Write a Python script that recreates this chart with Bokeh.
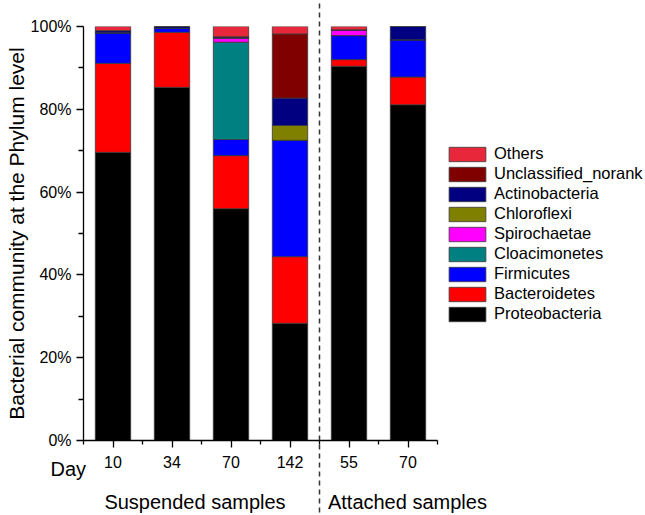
from bokeh.plotting import figure
from bokeh.models import (ColumnDataSource, FixedTicker, Legend, LegendItem,
                          Label, LinearAxis, Range1d, PrintfTickFormatter)
from bokeh.embed import file_html
from bokeh.resources import INLINE

# ---- data ----
days = ["10", "34", "70", "142", "55", "70"]
positions = [1, 2, 3, 4, 5, 6]
phyla = ["Proteobacteria", "Bacteroidetes", "Firmicutes", "Cloacimonetes",
         "Spirochaetae", "Chloroflexi", "Actinobacteria",
         "Unclassified_norank", "Others"]
Proteobacteria = [69.6, 85.3, 56.0, 28.3, 90.4, 81.1]
Bacteroidetes = [21.5, 13.3, 12.8, 16.1, 1.6, 6.7]
Firmicutes = [7.4, 1.0, 3.9, 28.1, 5.8, 9.0]
Cloacimonetes = [0.0, 0.0, 23.5, 0.0, 0.0, 0.0]
Spirochaetae = [0.0, 0.0, 1.0, 0.0, 1.4, 0.0]
Chloroflexi = [0.0, 0.0, 0.0, 3.6, 0.0, 0.0]
Actinobacteria = [0.5, 0.4, 0.3, 6.6, 0.0, 3.2]
Unclassified_norank = [0.0, 0.0, 0.0, 15.5, 0.0, 0.0]
Others = [1.0, 0.0, 2.5, 1.8, 0.8, 0.0]
colors = ["#000000", "#FF0000", "#0000FF", "#008080", "#FF00FF",
          "#808000", "#000080", "#800000", "#E8283A"]
y_ticks = [0, 20, 40, 60, 80, 100]
y_minor = [10, 30, 50, 70, 90]
group_labels = ["Suspended samples", "Attached samples"]
group_centers = [2.39, 5.99]
separator = 4.5

FONT = "Liberation Sans"

source = ColumnDataSource(dict(
    x=positions,
    Proteobacteria=Proteobacteria, Bacteroidetes=Bacteroidetes,
    Firmicutes=Firmicutes, Cloacimonetes=Cloacimonetes,
    Spirochaetae=Spirochaetae, Chloroflexi=Chloroflexi,
    Actinobacteria=Actinobacteria, Unclassified_norank=Unclassified_norank,
    Others=Others))

# frame spans to the right edge so the legend can sit inside it;
# the x axis itself is limited to the bars' extent with `bounds`
p = figure(width=645, height=515, output_backend="svg", toolbar_location=None,
           x_range=Range1d(0.5, 0.5 + 562 / 59), y_range=Range1d(0, 100),
           min_border_left=83, min_border_right=0, min_border_top=26,
           min_border_bottom=75)
p.title.visible = False
p.outline_line_color = None
p.grid.visible = False
p.background_fill_color = "white"

renderers = p.vbar_stack(phyla, x="x", width=0.6, source=source,
                         fill_color=colors, line_color="#3a3a3a",
                         line_width=0.8)

# main x axis
xa = p.xaxis[0]
xa.bounds = (0.5, 6.5)
xa.ticker = FixedTicker(ticks=positions,
                        minor_ticks=[0.5, 1.5, 2.5, 3.5, 4.5, 5.5, 6.5])
xa.major_label_overrides = {pos: d for pos, d in zip(positions, days)}
xa.major_tick_out = 7
xa.major_tick_in = 0
xa.minor_tick_out = 4
xa.minor_tick_in = 0
xa.major_label_standoff = 8
xa.major_label_text_font = FONT
xa.major_label_text_font_size = "16px"
xa.major_label_text_color = "black"
xa.axis_line_width = 1.3
xa.axis_line_color = "black"
xa.major_tick_line_color = "black"
xa.minor_tick_line_color = "black"
xa.major_tick_line_width = 1.3
xa.minor_tick_line_width = 1.3

# second x axis: group names + dashed separator (drawn as a long minor tick)
xb = LinearAxis(ticker=FixedTicker(ticks=group_centers, minor_ticks=[separator]))
xb.major_label_overrides = {c: g for c, g in zip(group_centers, group_labels)}
xb.axis_line_color = None
xb.major_tick_line_color = None
xb.major_tick_out = 0
xb.major_tick_in = 0
xb.minor_tick_in = 467
xb.minor_tick_out = 42
xb.major_label_standoff = -22
xb.major_label_text_font = FONT
xb.major_label_text_font_size = "20px"
xb.major_label_text_color = "black"
xb.minor_tick_line_color = "#333333"
xb.minor_tick_line_width = 1.5
xb.minor_tick_line_dash = "5 4"
p.add_layout(xb, "below")

# y axis
ya = p.yaxis[0]
ya.ticker = FixedTicker(ticks=y_ticks, minor_ticks=y_minor)
ya.formatter = PrintfTickFormatter(format="%d%%")
ya.major_tick_out = 7
ya.major_tick_in = 0
ya.minor_tick_out = 5
ya.minor_tick_in = 0
ya.major_label_standoff = 5
ya.major_label_text_font = FONT
ya.major_label_text_font_size = "16px"
ya.major_label_text_color = "black"
ya.axis_line_width = 1.3
ya.axis_line_color = "black"
ya.major_tick_line_color = "black"
ya.minor_tick_line_color = "black"
ya.major_tick_line_width = 1.3
ya.minor_tick_line_width = 1.3
ya.axis_label = "Bacterial community at the Phylum level"
ya.axis_label_text_font = FONT
ya.axis_label_text_font_size = "21px"
ya.axis_label_text_font_style = "normal"
ya.axis_label_text_color = "black"
ya.axis_label_standoff = 0

# "Day" caption next to the tick labels (side-panel annotation => not clipped)
p.add_layout(Label(x=-0.06, y=-6.8, text="Day", text_font=FONT,
                   text_font_size="20px", text_color="black",
                   text_baseline="alphabetic", text_align="left"), "above")

# legend (top = Others ... bottom = Proteobacteria), inside the wide frame
items = [LegendItem(label=name, renderers=[r])
         for name, r in reversed(list(zip(phyla, renderers)))]
legend = Legend(items=items, location=(361, 117), padding=0, margin=0,
                glyph_width=46, glyph_height=18, label_height=14,
                spacing=1, label_standoff=4,
                label_text_font=FONT, label_text_font_size="16.5px",
                label_text_color="black",
                border_line_alpha=0, background_fill_alpha=0)
p.add_layout(legend, "center")

open("out.html", "w").write(file_html(p, INLINE))
